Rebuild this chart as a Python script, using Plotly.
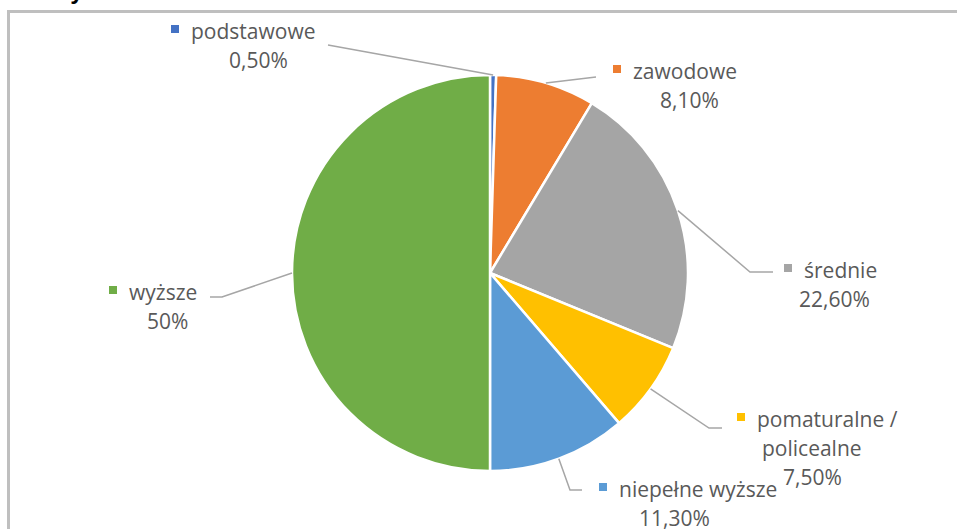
import math
import plotly.graph_objects as go

# ── DATA ────────────────────────────────────────────────────
labels = ["podstawowe", "zawodowe", "średnie", "pomaturalne / policealne",
          "niepełne wyższe", "wyższe"]
label_lines = [["podstawowe", "0,50%"],
               ["zawodowe", "8,10%"],
               ["średnie", "22,60%"],
               ["pomaturalne /", "policealne", "7,50%"],
               ["niepełne wyższe", "11,30%"],
               ["wyższe", "50%"]]
values = [0.5, 8.1, 22.6, 7.5, 11.3, 50.0]
colors = ["#4472C4", "#ED7D31", "#A5A5A5", "#FFC000", "#5B9BD5", "#70AD47"]
title = "12. Wykształcenie"

# ── LAYOUT CONSTANTS (pixels) ───────────────────────────────
W, H = 957, 529
CX, CY, R = 490, 273, 198
# label block: (square x, first line y, text centre x, elbow, line end)
label_pos = [
    (175, 31, 258, (328, 45), (328, 45)),
    (617, 71, 689, (596, 77), (596, 77)),
    (788, 270, 834, (750, 272), (773, 272)),
    (741, 419, 812, (709, 428), (722, 428)),
    (603, 489, 674, (570, 490), (582, 490)),
    (113, 292, 167, (222, 297), (210, 297)),
]
FONT = "'Open Sans', sans-serif"
TXT = "#595959"
LH = 29


def px(x):
    return x / W


def py(y):
    return 1 - y / H


fig = go.Figure(go.Pie(
    labels=labels,
    values=values,
    sort=False,
    direction="clockwise",
    rotation=0,
    textinfo="none",
    hoverinfo="label+percent",
    marker=dict(colors=colors, line=dict(color="white", width=2.5)),
    domain=dict(x=[px(CX - R), px(CX + R)], y=[py(CY + R), py(CY - R)]),
    showlegend=False,
))

shapes = []
annotations = []

# frame (only left and top visible)
shapes.append(dict(type="rect", xref="paper", yref="paper",
                   x0=px(8.5), x1=px(W + 20), y0=py(H + 20), y1=py(11.5),
                   line=dict(color="#BFBFBF", width=3), layer="below"))

# title, cut off at the top of the page
annotations.append(dict(text="<b>" + title + "</b>", xref="paper", yref="paper",
                        x=px(6), y=py(6), xanchor="left", yanchor="bottom",
                        showarrow=False,
                        font=dict(family="'Liberation Sans', Arial, sans-serif",
                                  size=24, color="black")))

# leader lines and labels
total = sum(values)
cum = 0.0
for i, v in enumerate(values):
    mid = (cum + v / 2) / total * 2 * math.pi
    cum += v
    ex = CX + R * math.sin(mid)
    ey = CY - R * math.cos(mid)
    sqx, ty, tcx, elbow, end = label_pos[i]
    pts = [(ex, ey), elbow, end]
    path = "M {} {}".format(px(pts[0][0]), py(pts[0][1]))
    for p in pts[1:]:
        path += " L {} {}".format(px(p[0]), py(p[1]))
    shapes.append(dict(type="path", xref="paper", yref="paper", path=path,
                       line=dict(color="#A6A6A6", width=1.5)))
    shapes.append(dict(type="rect", xref="paper", yref="paper",
                       x0=px(sqx - 4), x1=px(sqx + 4), y0=py(ty + 2), y1=py(ty - 6),
                       fillcolor=colors[i], line=dict(width=0)))
    lines = label_lines[i]
    for j, t in enumerate(lines):
        if j == 0:
            annotations.append(dict(text=t, xref="paper", yref="paper",
                                    x=px(sqx + 14), y=py(ty), xanchor="left", yanchor="middle",
                                    showarrow=False, font=dict(family=FONT, size=21, color=TXT)))
        else:
            annotations.append(dict(text=t, xref="paper", yref="paper",
                                    x=px(tcx), y=py(ty + LH * j), xanchor="center", yanchor="middle",
                                    showarrow=False, font=dict(family=FONT, size=21, color=TXT)))

fig.update_layout(
    width=W, height=H,
    margin=dict(l=0, r=0, t=0, b=0),
    paper_bgcolor="white",
    plot_bgcolor="white",
    shapes=shapes,
    annotations=annotations,
)

fig.write_html("out.html", config={"displayModeBar": False},
               post_script="document.body.style.margin='0';")
